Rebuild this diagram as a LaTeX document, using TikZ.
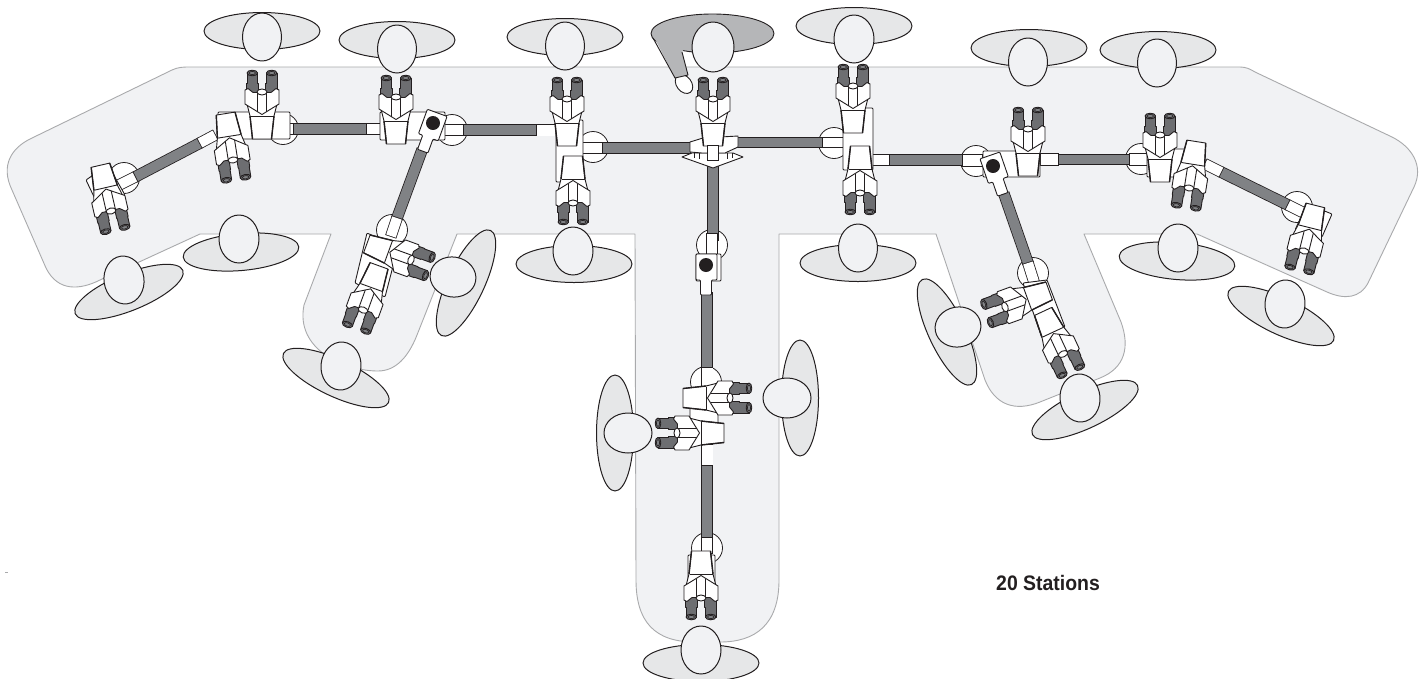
\documentclass[tikz,border=0pt]{standalone}
\usepackage{fontspec}
\setmainfont{Liberation Sans}
\definecolor{bgfill}{HTML}{F1F2F4}
\definecolor{bgline}{HTML}{A9AAAC}
\definecolor{bodyfill}{HTML}{E6E7E8}
\definecolor{darkbody}{HTML}{B5B6B8}
\definecolor{armgray}{HTML}{808285}
\definecolor{epgray}{HTML}{6D6E71}
\definecolor{inkline}{HTML}{231F20}
\tikzset{
  ink/.style={draw=inkline,line width=0.9pt,line join=round},
  wh/.style={ink,fill=white},
  hubc/.style={ink,fill=white,line width=0.8pt},
  pbody/.style={ink,fill=bodyfill,line width=1pt},
  phead/.style={ink,fill=bgfill,line width=1pt},
  epfill/.style={ink,fill=epgray},
}
\newcommand\eyep[1]{\begin{scope}[shift={(#1,0)}]
  \draw[epfill] (-5.3,-19) -- (-5.3,-9) -- (-5.8,-9) -- (-5.8,1) -- (5.8,1) -- (5.8,-9) -- (5.3,-9) -- (5.3,-19) -- cycle;
  \draw[epfill] (0,-19) ellipse [x radius=5.3,y radius=2.8];
  \draw[ink,fill=armgray,line width=0.6pt] (0,-19) ellipse [x radius=3.2,y radius=1.6];
\end{scope}}
% #1 x, #2 y, #3 rotation: a microscope head, its origin between the eyepieces
\newcommand\scopehead[3]{\begin{scope}[shift={(#1,#2)},rotate=#3]
  \draw[wh] (-15,12) -- (-12,24) -- (-9.5,47) -- (9.5,47) -- (12,24) -- (15,12) -- cycle;
  \draw[ink,line width=1.4pt] (-12,24) -- (-9.5,47) (12,24) -- (9.5,47);
  \eyep{-9.7}\eyep{9.7}
  \draw[wh] (-17,-2) -- (-17,12) -- (0,22.5) -- (17,12) -- (17,-2) -- (14,-3.5) -- (9,0.5) -- (-9,0.5) -- (-14,-3.5) -- cycle;
  \draw[ink] (-4.7,0) -- (-4.7,19.5) (4.7,0) -- (4.7,19.5);
  \draw[wh] (0,0) ellipse [x radius=5,y radius=3];
  \draw[ink] (-11.5,24) -- (11.5,24);
\end{scope}}
% a bar from a to b of width w with colour c
\newcommand\barseg[6]{%
  \draw[inkline,line width=#5pt+1.6pt,shorten <=-0.8pt,shorten >=-0.8pt] (#1,#2) -- (#3,#4);
  \draw[#6,line width=#5pt] (#1,#2) -- (#3,#4);}
\newcommand\hub[2]{\draw[hubc] (#1,#2) circle [radius=15.5];}
% body x,y,rot; head x,y,rx,ry,rot
\newcommand\person[8]{%
  \draw[pbody,rotate around={#3:(#1,#2)}] (#1,#2) ellipse [x radius=58,y radius=18.5];
  \draw[phead,rotate around={#8:(#4,#5)}] (#4,#5) ellipse [x radius=#6,y radius=#7];}
% block with a dot, rotated; #1 x,#2 y,#3 rot
\newcommand\dotblock[3]{\begin{scope}[shift={(#1,#2)},rotate=#3]
  \draw[wh,rounded corners=1pt] (-10,-11) -- (11,-11) -- (11,15) -- (5.5,15) -- (5.5,30) -- (-5.5,30) -- (-5.5,15) -- (-10,15) -- cycle;
  \fill[inkline] (0,0) circle [radius=7];
\end{scope}}
\begin{document}
\begin{tikzpicture}[x=1pt,y=-1pt]
\useasboundingbox (0,0) rectangle (1427,678);
\fill[white] (0,0) rectangle (1427,678);
% the table
\draw[bgline,fill=bgfill,line width=0.9pt,line join=round]
  (190,67) -- (1240,67) .. controls (1246,67) and (1250,69) .. (1255,72) -- (1392,137)
  .. controls (1412,147) and (1424,166) .. (1414,187) -- (1368,283)
  .. controls (1360,298) and (1345,300) .. (1327,292) -- (1197,234) -- (1084,234) -- (1121,322)
  .. controls (1130,347) and (1125,368) .. (1100,378) -- (1040,402)
  .. controls (1015,412) and (995,405) .. (985,380) -- (936,234) -- (779,234) -- (779,580)
  .. controls (779,625) and (755,642) .. (720,642) -- (695,642)
  .. controls (655,642) and (636,622) .. (636,580) -- (635,234) -- (457,234) -- (417,335)
  .. controls (408,358) and (395,371) .. (378,371)
  .. controls (345,371) and (295,350) .. (304,305) -- (331,234) -- (200,234) -- (100,280)
  .. controls (80,290) and (58,292) .. (46,268) -- (12,190)
  .. controls (0,165) and (12,148) .. (30,139) -- (172,70) .. controls (178,67) and (184,67) .. (190,67) -- cycle;
\draw[bgline,line width=0.6pt] (5,572) -- (8,572);
% people
\person{262}{31}{0}{262}{37}{19.5}{24}{0}
\person{397}{40}{0}{397}{49}{19.5}{24}{0}
\person{565}{37}{0}{565}{46}{19.5}{24}{0}
\person{854}{26}{0}{854}{39}{20}{24}{0}
\person{1029}{48}{0}{1028}{62}{19.5}{24}{0}
\person{1158}{50}{0}{1157}{63}{19.5}{24}{0}
\person{129}{292}{22}{124}{280}{20}{24}{8}
\person{241}{252}{5}{239}{239}{20}{24}{0}
\person{336}{378}{-25}{341}{366}{20}{24}{-5}
\person{466}{283}{65}{453}{277}{23}{20}{-10}
\person{574}{264}{0}{573}{251}{20}{24}{0}
\person{615}{433}{90}{628}{433}{24}{20}{0}
\person{800}{398}{90}{787}{398}{24}{20}{0}
\person{701}{663}{0}{701}{650}{20}{24}{0}
\person{858}{263}{0}{858}{248}{19.5}{24}{0}
\person{947}{332}{-65}{958}{327}{23}{20}{10}
\person{1085}{410}{25}{1080}{398}{20}{24}{5}
\person{1177}{261}{-5}{1178}{248}{20}{24}{0}
\person{1281}{316}{-25}{1285}{304}{20}{24}{-5}
% the dark person, with the arm
\draw[wh,rotate around={38:(684,84)}] (684,84) ellipse [x radius=7.5,y radius=10.5];
\draw[ink,fill=darkbody] (712.5,33.5) ellipse [x radius=61.5,y radius=19.5];
\fill[darkbody] (653,35) -- (675,78) -- (688,75) -- (682,52) -- (690,40) -- cycle;
\draw[ink] (653,38) -- (675,78) -- (688,75) -- (682,52);
\draw[phead] (713,47) ellipse [x radius=21,y radius=25];
% hubs
\hub{124}{178}\hub{283}{129}\hub{452}{130}\hub{392}{230}
\hub{593}{147}\hub{712}{245}\hub{706}{382}\hub{707}{548}
\hub{834}{143}\hub{976}{161}\hub{1033}{273}\hub{1141}{159}\hub{1297}{207}
% arms, horizontal run
\barseg{293}{129}{367}{129}{10}{armgray}
\barseg{463}{130}{537}{130}{9.5}{armgray}
\barseg{602}{148}{690}{148}{10}{armgray}
\barseg{737}{142.5}{823}{142.5}{9.5}{armgray}
\barseg{889}{160}{963}{160}{10}{armgray}
\barseg{1058}{159.5}{1130}{159.5}{9.5}{armgray}
% slanted and vertical arms
\barseg{200}{143}{135}{177}{10}{armgray}
\barseg{422}{150}{397}{218}{10}{armgray}
\barseg{1004}{194}{1028}{263}{10}{armgray}
\barseg{1221}{172}{1288}{205}{10}{armgray}
\barseg{713}{158}{713}{240}{10}{armgray}
\barseg{707}{293}{707}{370}{10}{armgray}
\barseg{707}{462}{707}{540}{10}{armgray}
% stubs
\barseg{273}{129}{293}{129}{10}{white}
\barseg{367}{129}{384}{129}{10}{white}
\barseg{443}{130}{463}{130}{10.5}{white}
\barseg{537}{130}{556}{130}{11}{white}
\barseg{583}{148}{602}{148}{10}{white}
\barseg{823}{142.5}{843}{142.5}{9.5}{white}
\barseg{873}{160}{889}{160}{10.5}{white}
\barseg{963}{160.5}{982}{160.5}{10.5}{white}
\barseg{1041}{159.5}{1058}{159.5}{10.5}{white}
\barseg{1130}{159.5}{1147}{159.5}{10.5}{white}
\barseg{135}{177}{117}{186}{10}{white}
\barseg{200}{143}{215}{135}{10}{white}
\barseg{397}{218}{391}{236}{10}{white}
\barseg{1028}{263}{1034}{282}{10}{white}
\barseg{1221}{172}{1205}{164}{10}{white}
\barseg{1288}{205}{1306}{214}{10}{white}
\barseg{712}{234}{712}{254}{10}{white}
\barseg{707}{368}{707}{386}{11}{white}
\barseg{707}{445}{707}{465}{11}{white}
\barseg{707}{538}{707}{553}{10}{white}
% bodies
\draw[wh,rounded corners=1pt] (218,112) rectangle (290,139);
\draw[wh,rounded corners=1pt] (86,180) -- (108,165) -- (125,195) -- (97,203) -- cycle;
\draw[wh,rounded corners=1pt] (380,112) rectangle (445,140);
\draw[wh,rounded corners=1pt] (367,233) -- (398,247) -- (385,297) -- (355,283) -- cycle;
\draw[wh,rounded corners=1pt] (556,120) rectangle (583,182);
\draw[wh,rounded corners=1pt] (843,108) rectangle (873,170);
\draw[wh,rounded corners=1pt] (983,151) rectangle (1040,177);
\draw[wh,rounded corners=1pt] (1023,283) -- (1047,280) -- (1065,327) -- (1042,338) -- cycle;
\draw[wh,rounded corners=1pt] (1147,149) rectangle (1200,177);
\draw[wh,rounded corners=1pt] (1307,204) -- (1332,214) -- (1322,237) -- (1295,230) -- cycle;
\draw[wh,rounded corners=1pt] (690,400) rectangle (718,440);
\draw[wh,rounded corners=1pt] (688,555) rectangle (715,585);
\draw[wh,rounded corners=1pt] (696,254) rectangle (721,281);
% the centre plate
\draw[wh] (682,157) -- (692,153) -- (733,153) -- (743,157) -- (713,168) -- cycle;
\draw[wh] (690,142) -- (703,138) -- (738,136) -- (738,147) -- (725,153) -- (702,153) -- (690,152) -- cycle;
\draw[ink,line width=0.7pt] (694,153) -- (694,158) (699,153) -- (699,159) (727,153) -- (727,159) (732,153) -- (732,158);
% heads
\scopehead{111}{211}{193}
\scopehead{233}{160}{189}
\scopehead{262}{92}{0}
\scopehead{396}{97}{0}
\scopehead{363}{310}{160}
\scopehead{411}{260}{250}
\scopehead{567}{99}{0}
\scopehead{573}{203}{180}
\scopehead{713}{99}{0}
\barseg{713}{146}{713}{160}{10}{white}
\scopehead{853}{86}{0}
\scopehead{860}{193}{180}
\scopehead{1028}{129}{0}
\scopehead{1005}{307}{110}
\scopehead{1063}{354}{205}
\scopehead{1160}{135}{0}
\scopehead{1189}{188}{171}
\scopehead{1304}{251}{166}
\scopehead{730}{398}{270}
\scopehead{677}{433}{90}
\scopehead{701}{598}{180}
% pivot blocks
\dotblock{433}{123}{-20}
\dotblock{993}{166}{19}
\dotblock{706}{265}{0}
\node[anchor=west,inner sep=0pt,text=inkline,font=\fontsize{21}{24}\selectfont\bfseries] (title) at (996,583) {\scalebox{0.925}[1]{20 Stations}};
\end{tikzpicture}
\end{document}
